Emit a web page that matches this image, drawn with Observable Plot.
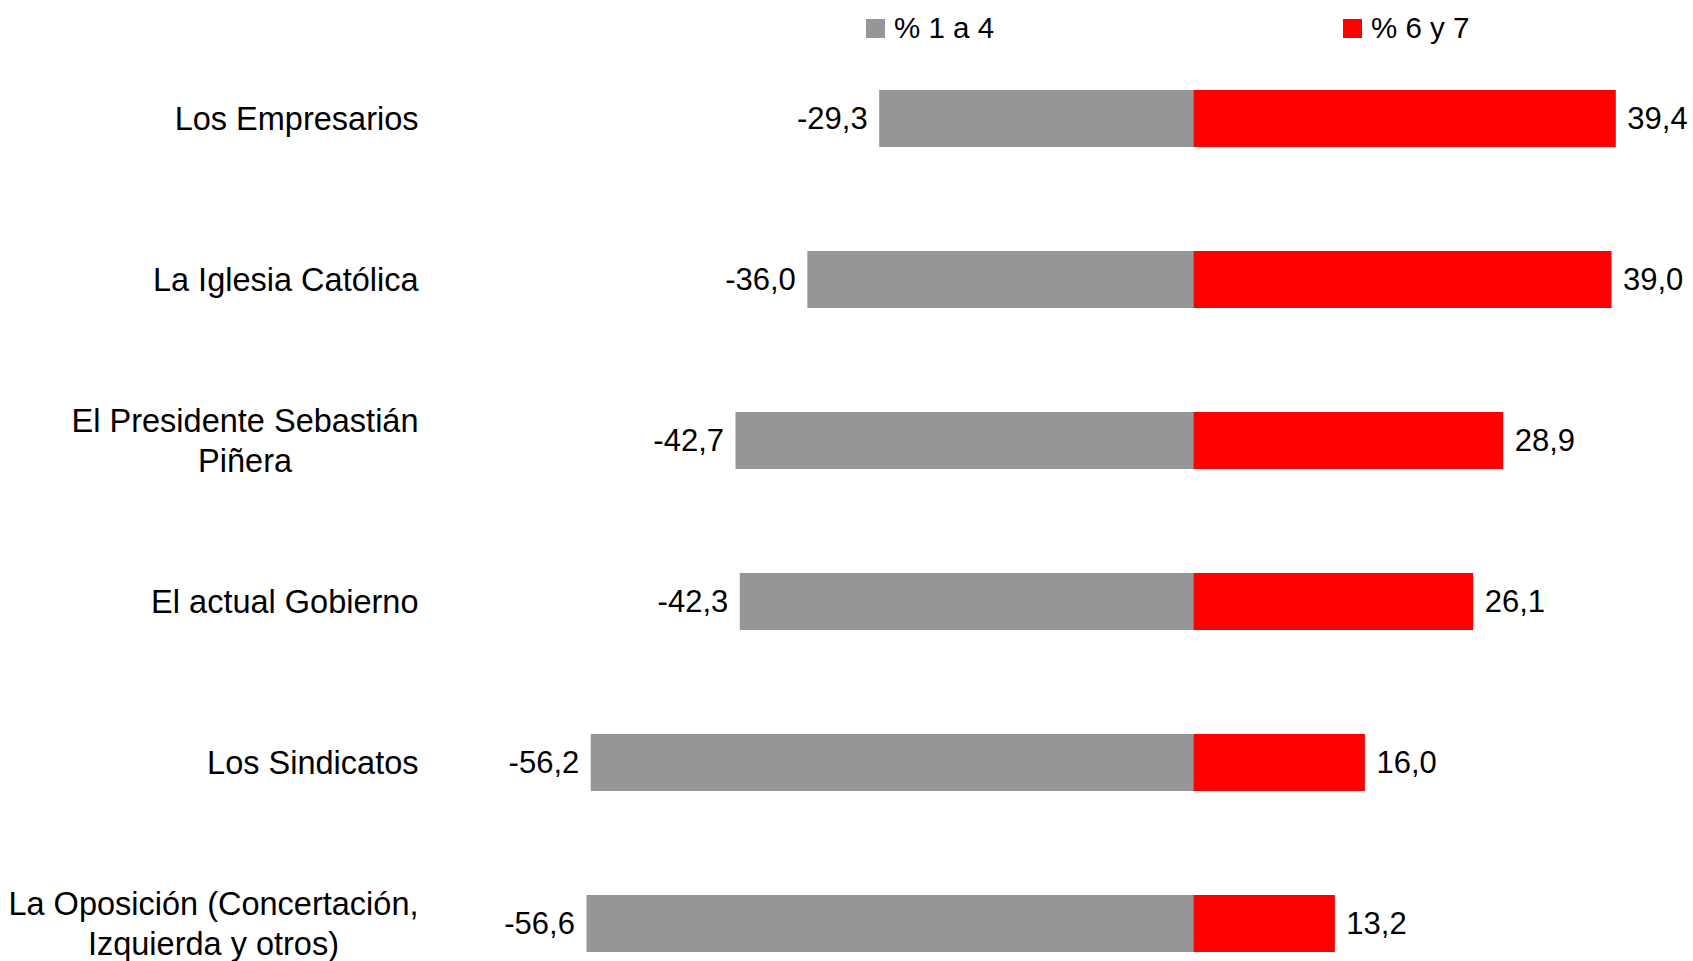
<!DOCTYPE html>
<html>
<head>
<meta charset="utf-8">
<script src="https://cdn.jsdelivr.net/npm/d3@7"></script>
<script src="https://cdn.jsdelivr.net/npm/@observablehq/plot@0.6"></script>
<style>
  html, body { margin: 0; padding: 0; background: #fff; }
  body { font-family: "Liberation Sans", Arial, sans-serif; }
  #wrap { position: relative; width: 1693px; height: 961px; }
  #legend { position: relative; height: 56px; width: 1693px; }
  .item { position: absolute; top: 9px; display: flex; align-items: center; font-size: 29.5px; line-height: 38px; color: #000; }
  .sw { width: 19px; height: 19px; margin-right: 9px; }
  #chart svg { display: block; }
</style>
</head>
<body>
<div id="wrap">
  <div id="legend"></div>
  <div id="chart"></div>
</div>
<script>
const categories = [
  "Los Empresarios",
  "La Iglesia Católica",
  "El Presidente Sebastián Piñera",
  "El actual Gobierno",
  "Los Sindicatos",
  "La Oposición (Concertación, Izquierda y otros)"
];
const categoryLines = [
  ["Los Empresarios"],
  ["La Iglesia Católica"],
  ["El Presidente Sebastián", "Piñera"],
  ["El actual Gobierno"],
  ["Los Sindicatos"],
  ["La Oposición (Concertación,", "Izquierda y otros)"]
];
const low = [29.3, 36.0, 42.7, 42.3, 56.2, 56.6];   // % 1 a 4
const high = [39.4, 39.0, 28.9, 26.1, 16.0, 13.2];  // % 6 y 7
const seriesNames = ["% 1 a 4", "% 6 y 7"];
const seriesColors = ["#969696", "#ff0000"];

const fmt = v => v.toFixed(1).replace(".", ",");

const lowData = categories.map((c, i) => ({cat: c, v: -low[i]}));
const highData = categories.map((c, i) => ({cat: c, v: high[i]}));

// legend
const legend = document.getElementById("legend");
const legendLeft = [866, 1343];
seriesNames.forEach((n, i) => {
  const d = document.createElement("div");
  d.className = "item";
  d.style.left = legendLeft[i] + "px";
  d.innerHTML = `<div class="sw" style="background:${seriesColors[i]}"></div><span>${n}</span>`;
  legend.appendChild(d);
});

// measure label widths for centred wrapped labels
const canvas = document.createElement("canvas");
const ctx = canvas.getContext("2d");
const catFont = 32.5;
ctx.font = `${catFont}px "Liberation Sans"`;
const marginLeft = 550;
const labelRight = 418;
const lineStep = 40;

const labelMarks = [];
categoryLines.forEach((lines, i) => {
  const maxW = Math.max(...lines.map(l => ctx.measureText(l).width));
  lines.forEach((line, j) => {
    labelMarks.push(Plot.text([categories[i]], {
      y: d => d,
      text: () => line,
      frameAnchor: "left",
      dx: labelRight - marginLeft - maxW / 2,
      dy: (j - (lines.length - 1) / 2) * lineStep + 1,
      textAnchor: "middle",
      lineAnchor: "middle",
      fontSize: catFont,
      fill: "#000"
    }));
  });
});

const chart = Plot.plot({
  width: 1693,
  height: 905,
  marginLeft: marginLeft,
  marginRight: 0,
  marginTop: 33.5,
  marginBottom: 8.5,
  style: {fontFamily: '"Liberation Sans", Arial, sans-serif', background: "#fff", overflow: "visible"},
  x: {domain: [-60, 46.6], axis: null},
  y: {domain: categories, axis: null, paddingInner: 0.645, paddingOuter: 0},
  marks: [
    Plot.barX(lowData, {y: "cat", x1: 0, x2: "v", fill: seriesColors[0]}),
    Plot.barX(highData, {y: "cat", x1: 0, x2: "v", fill: seriesColors[1]}),
    Plot.text(lowData, {y: "cat", x: "v", text: d => fmt(d.v), textAnchor: "end", dx: -12, fontSize: 31, fill: "#000"}),
    Plot.text(highData, {y: "cat", x: "v", text: d => fmt(d.v), textAnchor: "start", dx: 11, fontSize: 31, fill: "#000"}),
    ...labelMarks
  ]
});
document.getElementById("chart").appendChild(chart);
</script>
</body>
</html>
